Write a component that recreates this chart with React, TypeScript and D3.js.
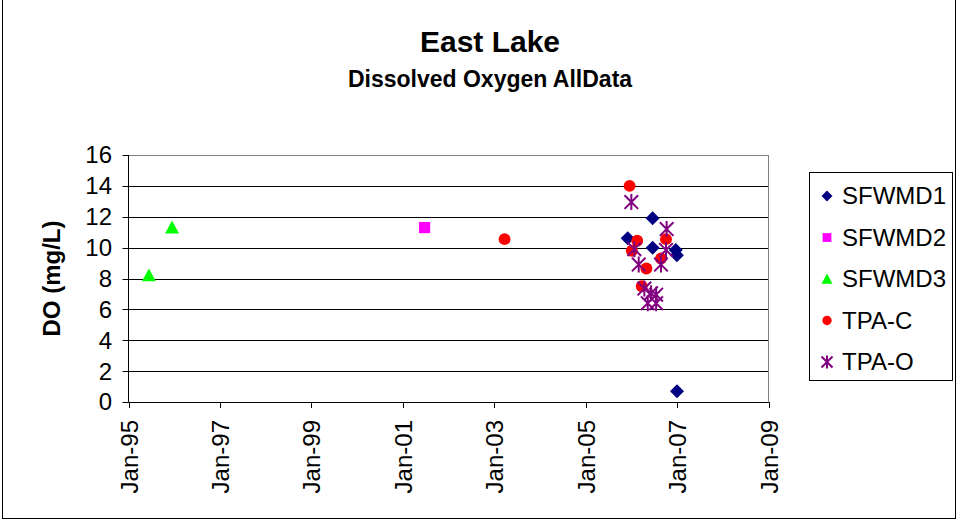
import React from "react";
import * as d3 from "d3";

// Dissolved oxygen samples for East Lake, by sampling agency/site
const parse = d3.timeParse("%Y-%m-%d");

const sfwmd1Dates = ["2005-12-03", "2006-06-20", "2006-06-20", "2006-12-22", "2006-12-31", "2007-01-01"];
const sfwmd1Values = [10.6, 11.9, 10.0, 9.85, 9.5, 0.7];

const sfwmd2Dates = ["2001-06-24"];
const sfwmd2Values = [11.3];

const sfwmd3Dates = ["1995-06-13", "1995-12-15"];
const sfwmd3Values = [8.2, 11.3];

const tpaCDates = ["2003-03-25", "2005-12-18", "2006-02-17", "2006-10-05", "2006-01-05", "2006-08-26", "2006-05-01", "2006-03-25"];
const tpaCValues = [10.55, 14.0, 10.45, 10.55, 9.8, 9.3, 8.65, 7.5];

const tpaODates = ["2006-01-01", "2006-10-10", "2006-01-25", "2006-10-05", "2006-03-01", "2006-08-26", "2006-04-15", "2006-06-08", "2006-07-18", "2006-05-12", "2006-07-18"];
const tpaOValues = [12.95, 11.2, 9.9, 9.85, 8.9, 8.9, 7.35, 7.05, 6.95, 6.4, 6.4];

const xTickDates = ["1995-01-01", "1997-01-01", "1999-01-01", "2001-01-01", "2003-01-01", "2005-01-01", "2007-01-01", "2009-01-01"];
const yTicks = [0, 2, 4, 6, 8, 10, 12, 14, 16];

type Shape = "diamond" | "square" | "triangle" | "circle" | "asterisk";

const seriesList: { name: string; dates: string[]; values: number[]; shape: Shape; color: string }[] = [
  { name: "SFWMD1", dates: sfwmd1Dates, values: sfwmd1Values, shape: "diamond", color: "#000080" },
  { name: "SFWMD2", dates: sfwmd2Dates, values: sfwmd2Values, shape: "square", color: "#FF00FF" },
  { name: "SFWMD3", dates: sfwmd3Dates, values: sfwmd3Values, shape: "triangle", color: "#00FF00" },
  { name: "TPA-C", dates: tpaCDates, values: tpaCValues, shape: "circle", color: "#FF0000" },
  { name: "TPA-O", dates: tpaODates, values: tpaOValues, shape: "asterisk", color: "#800080" },
];

const W = 958;
const H = 521;
const FONT = "'Liberation Sans', Arial, sans-serif";

const plot = { left: 128.5, right: 768.5, top: 155, bottom: 402 };

function Marker({ shape, color, x, y, s }: { shape: Shape; color: string; x: number; y: number; s: number }) {
  const h = s / 2;
  if (shape === "diamond") {
    return <path d={`M${x},${y - h}L${x + h},${y}L${x},${y + h}L${x - h},${y}Z`} fill={color} />;
  }
  if (shape === "square") {
    const q = h * 0.8;
    return <rect x={x - q} y={y - q} width={q * 2} height={q * 2} fill={color} />;
  }
  if (shape === "triangle") {
    return <path d={`M${x},${y - h}L${x + h},${y + h * 0.85}L${x - h},${y + h * 0.85}Z`} fill={color} />;
  }
  if (shape === "circle") {
    return <circle cx={x} cy={y} r={h * 0.85} fill={color} />;
  }
  const a = h * 0.85;
  return (
    <path
      d={`M${x - a},${y - a}L${x + a},${y + a}M${x - a},${y + a}L${x + a},${y - a}M${x},${y - h}L${x},${y + h}`}
      stroke={color}
      strokeWidth={2}
      fill="none"
    />
  );
}

export default function App() {
  const x = d3
    .scaleTime()
    .domain([parse(xTickDates[0])!, parse(xTickDates[xTickDates.length - 1])!])
    .range([plot.left, plot.right]);
  const y = d3.scaleLinear().domain([0, 16]).range([plot.bottom, plot.top]);
  const fmt = d3.timeFormat("%b-%y");

  const legendTop = 196;
  const legendStep = 41.5;

  return (
    <svg width={W} height={H} style={{ position: "absolute", left: 0, top: 0, background: "#fff" }}>
      <rect x={2.5} y={-2} width={953} height={520.5} fill="#fff" stroke="#000" strokeWidth={1} />

      <text x={490} y={52} textAnchor="middle" fontFamily={FONT} fontWeight="bold" fontSize={30}>
        East Lake
      </text>
      <text x={490} y={87} textAnchor="middle" fontFamily={FONT} fontWeight="bold" fontSize={23}>
        Dissolved Oxygen AllData
      </text>

      {/* gridlines */}
      {yTicks.map((t) => (
        <line
          key={"g" + t}
          x1={plot.left}
          x2={plot.right}
          y1={Math.round(y(t)) + 0.5}
          y2={Math.round(y(t)) + 0.5}
          stroke={t === 16 ? "#808080" : "#000"}
          strokeWidth={1}
        />
      ))}
      <line x1={plot.right} x2={plot.right} y1={plot.top} y2={plot.bottom} stroke="#808080" />

      {/* y axis */}
      <line x1={plot.left} x2={plot.left} y1={plot.top} y2={plot.bottom} stroke="#000" />
      {yTicks.map((t) => (
        <g key={"y" + t}>
          <line x1={plot.left - 6} x2={plot.left} y1={Math.round(y(t)) + 0.5} y2={Math.round(y(t)) + 0.5} stroke="#000" />
          <text x={112} y={y(t)} dy="0.35em" textAnchor="end" fontFamily={FONT} fontSize={24}>
            {t}
          </text>
        </g>
      ))}
      <text
        transform={`translate(60,${(plot.top + plot.bottom) / 2}) rotate(-90)`}
        textAnchor="middle"
        fontFamily={FONT}
        fontWeight="bold"
        fontSize={24}
      >
        DO (mg/L)
      </text>

      {/* x axis */}
      <line x1={plot.left} x2={plot.right} y1={plot.bottom + 0.5} y2={plot.bottom + 0.5} stroke="#000" />
      {xTickDates.map((s) => {
        const d = parse(s)!;
        const px = Math.round(x(d)) + 0.5;
        return (
          <g key={"x" + s}>
            <line x1={px} x2={px} y1={plot.bottom} y2={plot.bottom + 6} stroke="#000" />
            <text
              transform={`translate(${px + 8.5},420) rotate(-90)`}
              textAnchor="end"
              fontFamily={FONT}
              fontSize={24}
            >
              {fmt(d)}
            </text>
          </g>
        );
      })}

      {/* data points */}
      {seriesList.map((ser) =>
        ser.dates.map((ds, i) => (
          <Marker
            key={ser.name + i}
            shape={ser.shape}
            color={ser.color}
            x={x(parse(ds)!)}
            y={y(ser.values[i])}
            s={ser.shape === "asterisk" ? 16 : 14}
          />
        ))
      )}

      {/* legend */}
      <rect x={809.5} y={172.5} width={143} height={208} fill="#fff" stroke="#000" />
      {seriesList.map((ser, i) => (
        <g key={"l" + ser.name}>
          <Marker shape={ser.shape} color={ser.color} x={827} y={legendTop + i * legendStep} s={ser.shape === "asterisk" ? 13 : 11} />
          <text x={842} y={legendTop + i * legendStep} dy="0.35em" fontFamily={FONT} fontSize={24}>
            {ser.name}
          </text>
        </g>
      ))}
    </svg>
  );
}
